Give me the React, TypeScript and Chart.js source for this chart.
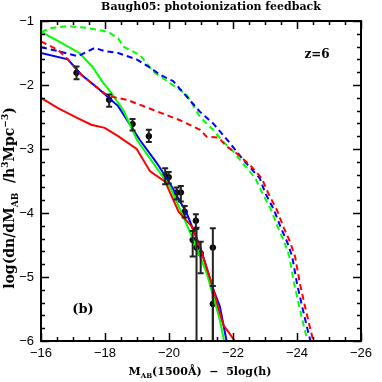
import React, { useEffect, useRef } from 'react';
import { Chart, registerables } from 'chart.js';

Chart.register(...registerables);

// ---- Data ----
const redSolidM = [-16.0, -16.53, -17.16, -17.57, -17.99, -18.41, -18.99, -19.41, -19.88, -20.3, -20.71, -20.97, -21.23, -21.39, -21.55, -21.7, -22.06];
const redSolidV = [-2.2, -2.36, -2.52, -2.62, -2.67, -2.8, -3.0, -3.35, -3.51, -3.98, -4.21, -4.53, -4.94, -5.2, -5.5, -5.75, -6.0];

const greenSolidM = [-16.0, -16.6, -17.2, -17.6, -17.95, -18.16, -18.57, -19.0, -19.51, -20.03, -20.45, -20.76, -21.18, -21.59, -21.72];
const greenSolidV = [-1.17, -1.33, -1.5, -1.71, -1.97, -2.1, -2.39, -2.86, -3.22, -3.59, -4.06, -4.42, -4.94, -5.67, -6.0];

const blueSolidM = [-16.0, -16.84, -17.26, -17.78, -18.41, -19.09, -19.62, -20.03, -20.55, -20.97, -21.39, -21.59, -21.8];
const blueSolidV = [-1.5, -1.6, -1.84, -2.05, -2.33, -2.86, -3.22, -3.54, -4.0, -4.53, -5.2, -5.46, -6.0];

const redDashM = [-16.0, -16.53, -16.84, -17.26, -17.78, -18.09, -18.68, -19.51, -20.34, -20.97, -21.18, -21.55, -21.8, -22.12, -22.53, -22.9, -23.1, -23.37, -23.57, -23.78, -23.94, -24.09, -24.25, -24.41, -24.51];
const redDashV = [-1.32, -1.45, -1.6, -1.84, -2.05, -2.17, -2.23, -2.39, -2.55, -2.7, -2.81, -2.82, -2.96, -3.07, -3.25, -3.46, -3.69, -3.95, -4.21, -4.45, -4.68, -5.1, -5.46, -5.8, -6.0];

const blueDashM = [-16.0, -16.53, -17.16, -17.68, -17.99, -18.41, -18.99, -19.41, -19.72, -20.13, -20.55, -20.97, -21.38, -21.91, -22.32, -22.84, -23.01, -23.28, -23.48, -23.69, -23.85, -24.0, -24.16, -24.32, -24.42];
const blueDashV = [-1.41, -1.47, -1.55, -1.42, -1.47, -1.5, -1.6, -1.73, -1.84, -1.94, -2.18, -2.42, -2.6, -2.91, -3.17, -3.46, -3.69, -3.95, -4.21, -4.45, -4.68, -5.1, -5.46, -5.8, -6.0];

const greenDashM = [-16.0, -16.32, -16.84, -17.47, -17.99, -18.16, -18.41, -18.57, -19.09, -19.51, -20.03, -20.55, -20.97, -21.38, -21.7, -22.01, -22.7, -22.92, -23.19, -23.39, -23.6, -23.76, -23.91, -24.07, -24.23, -24.33];
const greenDashV = [-1.17, -1.11, -1.08, -1.11, -1.16, -1.19, -1.27, -1.4, -1.53, -1.79, -1.97, -2.15, -2.5, -2.7, -2.89, -3.04, -3.46, -3.69, -3.95, -4.21, -4.45, -4.68, -5.1, -5.46, -5.8, -6.0];

const obsM = [-17.11, -18.13, -18.86, -19.37, -19.88, -19.99, -20.24, -20.37, -20.49, -20.74, -20.84, -20.86, -20.99, -21.37, -21.37];
const obsV = [-1.81, -2.23, -2.61, -2.8, -3.42, -3.44, -3.68, -3.68, -3.98, -4.42, -4.12, -4.54, -4.63, -4.54, -5.42];
const obsUpper = [-1.71, -2.15, -2.53, -2.7, -3.3, -3.36, -3.6, -3.58, -3.89, -4.28, -4.02, -4.23, -4.45, -4.24, -5.14];
const obsLower = [-1.91, -2.34, -2.71, -2.89, -3.55, -3.54, -3.79, -3.82, -4.07, -4.68, -4.25, -7.0, -4.94, -7.0, -7.0];

const xTicks = [-16, -18, -20, -22, -24, -26];
const yTicks = [-1, -2, -3, -4, -5, -6];

const titleText = 'Baugh05: photoionization feedback';
const zLabel = 'z=6';
const panelLabel = '(b)';

const pairs = (xs: number[], ys: number[]) => xs.map((x, i) => ({ x, y: ys[i] }));

type Part = { t: string; s: 'n' | 'sub' | 'sup' };

function drawRich(ctx: CanvasRenderingContext2D, parts: Part[], x: number, y: number, size: number, family: string) {
  const fontFor = (s: string) => `bold ${s === 'n' ? size : Math.round(size * 0.62)}px ${family}`;
  const widths = parts.map((p) => {
    ctx.font = fontFor(p.s);
    return ctx.measureText(p.t).width;
  });
  const total = widths.reduce((a, b) => a + b, 0);
  let cx = x - total / 2;
  ctx.textAlign = 'left';
  ctx.textBaseline = 'alphabetic';
  parts.forEach((p, i) => {
    ctx.font = fontFor(p.s);
    const dy = p.s === 'sub' ? size * 0.28 : p.s === 'sup' ? -size * 0.42 : 0;
    ctx.fillText(p.t, cx, y + dy);
    cx += widths[i];
  });
}

const framePlugin = {
  id: 'framePlugin',
  afterDatasetsDraw(chart: any) {
    const { ctx, chartArea: a, scales } = chart;
    const xs = scales.x;
    const ys = scales.y;
    ctx.save();
    ctx.beginPath();
    ctx.rect(a.left, a.top, a.right - a.left, a.bottom - a.top);
    ctx.clip();
    ctx.strokeStyle = '#222';
    ctx.lineWidth = 2;
    obsM.forEach((m, i) => {
      const px = xs.getPixelForValue(m);
      const yU = ys.getPixelForValue(obsUpper[i]);
      const yL = ys.getPixelForValue(obsLower[i]);
      ctx.beginPath();
      ctx.moveTo(px, yU);
      ctx.lineTo(px, yL);
      ctx.moveTo(px - 3, yU);
      ctx.lineTo(px + 3, yU);
      ctx.moveTo(px - 3, yL);
      ctx.lineTo(px + 3, yL);
      ctx.stroke();
    });
    ctx.restore();
  },
  afterDraw(chart: any) {
    const { ctx, chartArea: a, scales } = chart;
    const xs = scales.x;
    const ys = scales.y;
    ctx.save();
    ctx.strokeStyle = '#000';
    ctx.lineWidth = 2;
    ctx.strokeRect(a.left, a.top, a.right - a.left, a.bottom - a.top);
    ctx.lineWidth = 1.5;
    ctx.beginPath();
    for (let v = -26; v <= -16 + 1e-6; v += 0.5) {
      const major = Math.abs(v / 2 - Math.round(v / 2)) < 1e-6;
      const len = major ? 8 : 4;
      const px = Math.round(xs.getPixelForValue(v)) + 0.5;
      ctx.moveTo(px, a.bottom);
      ctx.lineTo(px, a.bottom - len);
      ctx.moveTo(px, a.top);
      ctx.lineTo(px, a.top + len);
    }
    for (let k = 0; k <= 25; k++) {
      const v = -6 + k * 0.2;
      const major = k % 5 === 0;
      const len = major ? 8 : 4;
      const py = Math.round(ys.getPixelForValue(v)) + 0.5;
      ctx.moveTo(a.left, py);
      ctx.lineTo(a.left + len, py);
      ctx.moveTo(a.right, py);
      ctx.lineTo(a.right - len, py);
    }
    ctx.stroke();

    ctx.fillStyle = '#000';
    const serif = '"DejaVu Serif"';
    drawRich(ctx, [{ t: titleText, s: 'n' }], 211, 10, 11, serif);
    drawRich(ctx, [{ t: zLabel, s: 'n' }], 317, 58, 12, serif);
    drawRich(ctx, [{ t: panelLabel, s: 'n' }], 83, 313, 13, serif);
    drawRich(
      ctx,
      [
        { t: 'M', s: 'n' },
        { t: 'AB', s: 'sub' },
        { t: '(1500Å)  −  5log(h)', s: 'n' },
      ],
      200,
      375,
      11,
      serif
    );
    ctx.save();
    ctx.translate(14, 198);
    ctx.rotate(-Math.PI / 2);
    drawRich(
      ctx,
      [
        { t: 'log(dn/dM', s: 'n' },
        { t: 'AB', s: 'sub' },
        { t: '  /h', s: 'n' },
        { t: '3', s: 'sup' },
        { t: 'Mpc', s: 'n' },
        { t: '−3', s: 'sup' },
        { t: ')', s: 'n' },
      ],
      0,
      0,
      14,
      serif
    );
    ctx.restore();
    ctx.restore();
  },
};

export default function App() {
  const ref = useRef<HTMLCanvasElement | null>(null);
  useEffect(() => {
    if (!ref.current) return;
    const lineDs = (label: string, xs: number[], ys: number[], color: string, dashed: boolean) => ({
      type: 'line' as const,
      label,
      data: pairs(xs, ys),
      borderColor: color,
      backgroundColor: color,
      borderWidth: 2,
      borderDash: dashed ? [6, 4] : [],
      pointRadius: 0,
      tension: 0,
      fill: false,
    });
    const chart = new Chart(ref.current, {
      type: 'line',
      data: {
        datasets: [
          lineDs('red dashed', redDashM, redDashV, '#ff0000', true),
          lineDs('blue dashed', blueDashM, blueDashV, '#0000ff', true),
          lineDs('green dashed', greenDashM, greenDashV, '#00ff00', true),
          lineDs('red', redSolidM, redSolidV, '#ff0000', false),
          lineDs('green', greenSolidM, greenSolidV, '#00ff00', false),
          lineDs('blue', blueSolidM, blueSolidV, '#0000ff', false),
          {
            type: 'scatter' as const,
            label: 'data',
            data: pairs(obsM, obsV),
            borderColor: '#000',
            backgroundColor: '#000',
            pointRadius: 2.8,
            pointStyle: 'circle',
            showLine: false,
          } as any,
        ],
      },
      options: {
        animation: false,
        responsive: false,
        devicePixelRatio: 1,
        layout: { padding: { top: 21, right: 21, left: 0, bottom: 0 } },
        plugins: { legend: { display: false }, tooltip: { enabled: false }, title: { display: false } },
        scales: {
          x: {
            type: 'linear',
            min: -26,
            max: -16,
            reverse: true,
            grid: { display: false, drawTicks: false },
            border: { display: false },
            afterFit: (s: any) => {
              s.height = 41;
            },
            afterBuildTicks: (s: any) => {
              s.ticks = xTicks.map((v) => ({ value: v }));
            },
            ticks: {
              padding: 5,
              color: '#000',
              maxRotation: 0,
              autoSkip: false,
              font: { family: '"Liberation Sans"', size: 13 },
              callback: (v: any) => (v < 0 ? '−' + Math.abs(v) : String(v)),
            },
          },
          y: {
            type: 'linear',
            min: -6,
            max: -1,
            grid: { display: false, drawTicks: false },
            border: { display: false },
            afterFit: (s: any) => {
              s.width = 41;
            },
            afterBuildTicks: (s: any) => {
              s.ticks = yTicks.map((v) => ({ value: v }));
            },
            ticks: {
              padding: 7,
              color: '#000',
              autoSkip: false,
              font: { family: '"Liberation Sans"', size: 13 },
              callback: (v: any) => (v < 0 ? '−' + Math.abs(v) : String(v)),
            },
          },
        },
      },
      plugins: [framePlugin],
    });
    return () => chart.destroy();
  }, []);
  return (
    <div style={{ position: 'fixed', left: 0, top: 0, width: 382, height: 382, background: '#fff' }}>
      <canvas ref={ref} width={382} height={382} style={{ width: 382, height: 382 }} />
    </div>
  );
}
